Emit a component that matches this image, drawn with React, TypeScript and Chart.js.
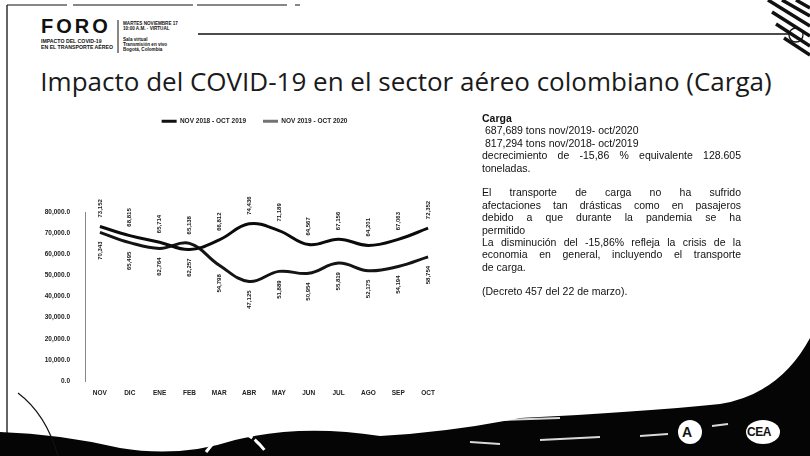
import React, { useEffect, useRef } from "react";
import { Chart, registerables } from "chart.js";

Chart.register(...registerables);

const months = ["NOV", "DIC", "ENE", "FEB", "MAR", "ABR", "MAY", "JUN", "JUL", "AGO", "SEP", "OCT"];
const seriesNames = ["NOV 2018 - OCT 2019", "NOV 2019 - OCT 2020"];
const tons2018_2019 = [73152, 68815, 65714, 62257, 66812, 74436, 71189, 64567, 67156, 64201, 67063, 72352];
const tons2019_2020 = [70343, 65495, 62764, 65138, 54798, 47125, 51889, 50954, 55819, 52175, 54194, 58754];
const yMin = 0;
const yMax = 80000;
const yStep = 10000;

const FONT = '"Liberation Sans", Arial, sans-serif';

const fmtInt = (v: number) => v.toLocaleString("en-US");
const fmtTick = (v: number) =>
  v.toLocaleString("en-US", { minimumFractionDigits: 1, maximumFractionDigits: 1 });

const legendSpacer = {
  id: "legendSpacer",
  beforeInit(chart: any) {
    const lg = chart.legend;
    if (!lg) return;
    const orig = lg.fit;
    lg.fit = function () {
      orig.call(this);
      this.height = 111;
    };
  },
  afterLayout(chart: any) {
    const lg = chart.legend;
    if (!lg) return;
    lg.left += 23;
    lg.right += 23;
  },
};

const valueLabels = {
  id: "valueLabels",
  afterDatasetsDraw(chart: any) {
    const ctx = chart.ctx;
    const m0 = chart.getDatasetMeta(0);
    const m1 = chart.getDatasetMeta(1);
    const d0 = chart.data.datasets[0].data as number[];
    const d1 = chart.data.datasets[1].data as number[];
    ctx.save();
    ctx.font = `bold 6px ${FONT}`;
    ctx.fillStyle = "#151515";
    ctx.textBaseline = "middle";
    for (let i = 0; i < d0.length; i++) {
      const hi = d0[i] >= d1[i] ? 0 : 1;
      const items: [any, number][] = [
        [m0.data[i], d0[i]],
        [m1.data[i], d1[i]],
      ];
      items.forEach(([pt, v], k) => {
        const up = k === hi;
        ctx.save();
        ctx.translate(pt.x, pt.y + (up ? -9 : 9));
        ctx.rotate(-Math.PI / 2);
        ctx.textAlign = up ? "left" : "right";
        ctx.fillText(fmtInt(v), 0, 0);
        ctx.restore();
      });
    }
    ctx.restore();
  },
};

function ChartBox() {
  const ref = useRef<HTMLCanvasElement>(null);
  useEffect(() => {
    if (!ref.current) return;
    const chart = new Chart(ref.current, {
      type: "line",
      data: {
        labels: months,
        datasets: [
          {
            label: seriesNames[0],
            data: tons2018_2019,
            borderColor: "#0b0b0b",
            backgroundColor: "#0b0b0b",
            borderWidth: 3,
            tension: 0.4,
            pointRadius: 0,
            fill: false,
          },
          {
            label: seriesNames[1],
            data: tons2019_2020,
            borderColor: "#141414",
            backgroundColor: "#141414",
            borderWidth: 3,
            tension: 0.4,
            pointRadius: 0,
            fill: false,
          },
        ],
      },
      options: {
        responsive: false,
        animation: false,
        layout: { padding: { left: 0, right: 45, top: 0, bottom: 0 } },
        plugins: {
          tooltip: { enabled: false },
          legend: {
            display: true,
            position: "top",
            labels: {
              color: "#222",
              font: { size: 6.5, weight: "bold", family: FONT },
              boxWidth: 15,
              boxHeight: 3,
              padding: 17,
              generateLabels: (chart: any) => {
                const base = Chart.defaults.plugins.legend.labels.generateLabels(chart);
                return base.map((it: any, i: number) => ({
                  ...it,
                  lineWidth: 0,
                  lineDash: [],
                  fillStyle: i === 0 ? "#111" : "rgba(0,0,0,0.55)",
                }));
              },
            },
          },
        },
        scales: {
          x: {
            offset: true,
            grid: { display: false },
            border: { display: false },
            ticks: {
              color: "#222",
              font: { size: 6.5, weight: "bold", family: FONT },
              padding: 0,
              maxRotation: 0,
              autoSkip: false,
            },
            afterFit: (s: any) => {
              s.height = 21;
            },
          },
          y: {
            min: yMin,
            max: yMax,
            grid: { display: false },
            border: { display: true, color: "#888", width: 1 },
            ticks: {
              stepSize: yStep,
              color: "#222",
              font: { size: 6.5, weight: "bold", family: FONT },
              padding: 7,
              callback: (v: any) => fmtTick(Number(v)),
            },
            afterFit: (s: any) => {
              s.width = 65;
            },
          },
        },
      },
      plugins: [legendSpacer, valueLabels],
    } as any);
    return () => chart.destroy();
  }, []);
  return <canvas ref={ref} width={468} height={301} style={{ width: 468, height: 301, display: "block" }} />;
}

const textLines: { t: string; j?: boolean; b?: boolean; indent?: number }[] = [
  { t: "Carga", b: true },
  { t: "687,689 tons nov/2019- oct/2020", indent: 3 },
  { t: "817,294 tons nov/2018- oct/2019", indent: 3 },
  { t: "decrecimiento de -15,86 % equivalente 128.605", j: true },
  { t: "toneladas." },
  { t: "" },
  { t: "El transporte de carga no ha sufrido", j: true },
  { t: "afectaciones tan drásticas como en pasajeros", j: true },
  { t: "debido a que durante la pandemia se ha", j: true },
  { t: "permitido" },
  { t: "La disminución del -15,86% refleja la crisis de la", j: true },
  { t: "economia en general, incluyendo el transporte", j: true },
  { t: "de carga." },
  { t: "" },
  { t: "(Decreto 457 del 22 de marzo)." },
];

export default function App() {
  return (
    <div
      style={{
        position: "fixed",
        left: 0,
        top: 0,
        width: 810,
        height: 456,
        background: "#fff",
        overflow: "hidden",
        fontFamily: FONT,
        color: "#111",
      }}
    >
      <svg width={810} height={456} style={{ position: "absolute", left: 0, top: 0 }}>
        <line x1={7} y1={5} x2={300} y2={5} stroke="#111" strokeWidth={1.2} strokeDasharray="60 6 120 4 90 8" />
        <line x1={7} y1={5} x2={7} y2={445} stroke="#111" strokeWidth={1.3} />
        <line x1={198} y1={34} x2={789} y2={34} stroke="#111" strokeWidth={1.4} />
        <circle cx={796} cy={35} r={7} fill="none" stroke="#111" strokeWidth={1.3} />
        <g stroke="#111" strokeWidth={3.5}>
          <line x1={768} y1={0} x2={810} y2={26} />
          <line x1={782} y1={0} x2={810} y2={16} />
          <line x1={796} y1={0} x2={810} y2={8} />
          <line x1={772} y1={12} x2={810} y2={36} />
          <line x1={776} y1={24} x2={810} y2={46} />
          <line x1={784} y1={38} x2={810} y2={55} />
        </g>
        <line x1={118} y1={20} x2={118} y2={53} stroke="#111" strokeWidth={1} />
        <path
          d="M0,456 L0,432 Q60,434 120,448 Q180,458 235,440 Q300,424 380,436 Q450,432 520,418 Q640,412 720,404 Q780,394 810,338 L810,456 Z"
          fill="#050505"
        />
        <path d="M18,393 Q46,414 58,456" fill="none" stroke="#111" strokeWidth={1.2} />
        <path d="M206,452 Q236,412 266,452" fill="none" stroke="#fff" strokeWidth={3} strokeDasharray="14 4 8 3" />
        <g stroke="#fff" strokeWidth={2} opacity={0.85}>
          <line x1={500} y1={420} x2={560} y2={418} />
          <line x1={540} y1={440} x2={600} y2={437} />
          <line x1={470} y1={442} x2={500} y2={444} />
          <line x1={640} y1={436} x2={668} y2={434} />
          <line x1={712} y1={426} x2={728} y2={424} />
        </g>
        <circle cx={690} cy={432} r={12} fill="#fff" />
        <ellipse cx={763} cy={432} rx={17} ry={12} fill="#fff" />
      </svg>

      <div style={{ position: "absolute", left: 41, top: 15, fontSize: 20, fontWeight: 900, letterSpacing: 3, lineHeight: "22px", color: "#111" }}>
        FORO
      </div>
      <div style={{ position: "absolute", left: 41, top: 38, fontSize: 5.2, fontWeight: 700, lineHeight: "6px", color: "#111", whiteSpace: "nowrap" }}>
        IMPACTO DEL COVID-19
        <br />
        EN EL TRANSPORTE AÉREO
      </div>
      <div style={{ position: "absolute", left: 123, top: 21, fontSize: 4.6, fontWeight: 700, lineHeight: "5.2px", color: "#111", whiteSpace: "nowrap" }}>
        MARTES NOVIEMBRE 17
        <br />
        10:00 A.M. · VIRTUAL
        <br />
        <br />
        Sala virtual
        <br />
        Transmisión en vivo
        <br />
        Bogotá, Colombia
      </div>

      <div
        style={{
          position: "absolute",
          left: 0,
          top: 63,
          width: 812,
          textAlign: "center",
          fontFamily: '"Open Sans", sans-serif',
          fontWeight: 400,
          fontSize: 26,
          lineHeight: "36px",
          color: "#1a1a1a",
          whiteSpace: "nowrap",
        }}
      >
        Impacto del COVID-19 en el sector aéreo colombiano (Carga)
      </div>

      <div style={{ position: "absolute", left: 20, top: 101 }}>
        <ChartBox />
      </div>

      <div style={{ position: "absolute", left: 482, top: 112, width: 259, fontSize: 10.5, lineHeight: "12.4px", color: "#111" }}>
        {textLines.map((l, i) => (
          <div
            key={i}
            style={{
              height: 12.4,
              whiteSpace: "nowrap",
              fontWeight: l.b ? 700 : 400,
              paddingLeft: l.indent || 0,
              textAlign: l.j ? "justify" : "left",
              textAlignLast: l.j ? "justify" : "left",
            } as any}
          >
            {l.t}
          </div>
        ))}
      </div>

      <div style={{ position: "absolute", left: 682, top: 423, fontSize: 14, fontWeight: 900, color: "#111", lineHeight: "18px" }}>A</div>
      <div style={{ position: "absolute", left: 747, top: 425, fontSize: 12, fontWeight: 900, color: "#111", lineHeight: "14px", letterSpacing: -0.5 }}>CEA</div>
    </div>
  );
}
